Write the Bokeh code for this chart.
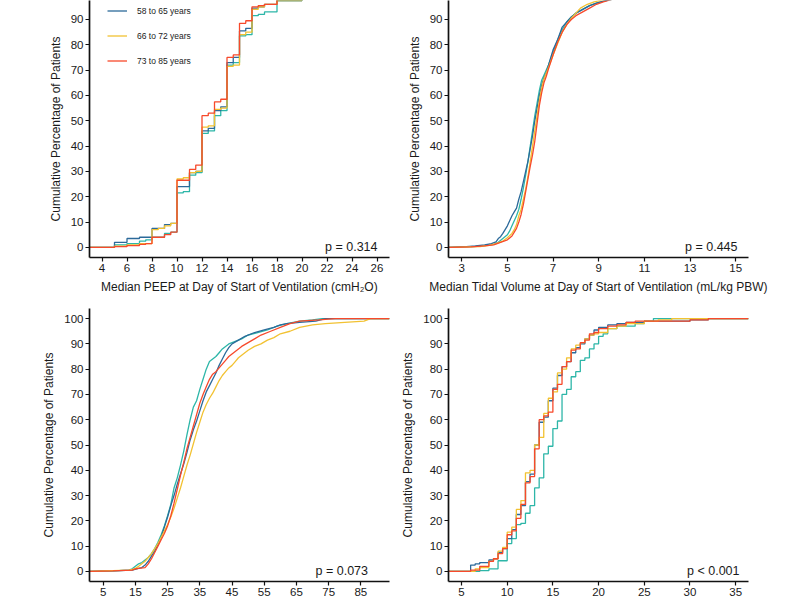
from bokeh.plotting import figure
from bokeh.models import FixedTicker, Range1d, Label, Legend, LegendItem
from bokeh.layouts import column, row
from bokeh.embed import file_html
from bokeh.resources import INLINE

# ---- group colours and names -------------------------------------------
group_colors = {
    "youngest": "#2DB6A8",
    "58 to 65 years": "#2C6A9A",
    "66 to 72 years": "#F2C232",
    "73 to 85 years": "#F7492B",
}
draw_order = ["youngest", "58 to 65 years", "66 to 72 years", "73 to 85 years"]
legend_groups = ["58 to 65 years", "66 to 72 years", "73 to 85 years"]

y_ticks = [0, 10, 20, 30, 40, 50, 60, 70, 80, 90, 100]

# ---- Panel A: median PEEP (cmH2O) ---------------------------------------
peep_ticks = [4, 6, 8, 10, 12, 14, 16, 18, 20, 22, 24, 26]
peep_x = {
    "youngest":       [5, 6, 7, 7.5, 8, 9, 9.5, 10, 10.5, 11, 11.5, 12, 12.5, 13, 13.5, 14, 14.5, 15, 15.5, 16, 16.5, 17, 18, 20],
    "58 to 65 years": [5, 6, 7, 8, 9, 9.5, 10, 11, 11.5, 12, 12.5, 13, 13.5, 14, 14.5, 15, 15.5, 16, 16.5, 17, 18, 20],
    "66 to 72 years": [5, 6, 7, 8, 8.5, 9, 9.5, 10, 10.5, 11, 11.5, 12, 12.5, 13, 13.5, 14, 14.5, 15, 15.5, 16, 16.5, 17, 18, 20],
    "73 to 85 years": [5, 6, 7, 7.5, 8, 9, 9.5, 10, 11, 11.5, 12, 12.5, 13, 13.5, 14, 14.5, 15, 15.5, 16, 16.5, 17, 18, 20],
}
peep_y = {
    "youngest":       [1, 1.5, 2.5, 3, 4, 5.5, 6, 21.5, 22, 28.5, 29.5, 45, 46, 52, 54, 72, 73, 83.5, 84, 91.5, 92, 93, 97.5, 100],
    "58 to 65 years": [2, 3.5, 4, 7.5, 9, 9.5, 24, 29.5, 30, 46, 47, 54, 55.5, 73, 75, 85.5, 86.5, 94.5, 95, 96, 97.5, 100],
    "66 to 72 years": [0.5, 1, 1.5, 7, 7.5, 8.5, 9.5, 27, 27.5, 29.5, 30, 47.5, 48, 54.5, 55, 71.5, 72, 84, 85, 94, 95, 96, 97.5, 100],
    "73 to 85 years": [0.3, 0.7, 1.2, 1.5, 4, 5, 6, 26.5, 30.8, 32.5, 52, 53, 57.5, 58.5, 75, 76, 88.5, 89.5, 95, 95.5, 96, 98, 100],
}

# ---- Panel B: median tidal volume (mL/kg PBW) ---------------------------
vt_ticks = [3, 5, 7, 9, 11, 13, 15]
vt_x = {
    "youngest":       [3.5, 4.0, 4.4, 4.6, 4.8, 5.0, 5.1, 5.2, 5.3, 5.4, 5.5, 5.6, 5.7, 5.8, 5.9, 6.0, 6.1, 6.2, 6.3, 6.4, 6.5, 6.6, 6.8, 7.0, 7.2, 7.4, 7.6, 7.8, 8.0, 8.3, 8.6, 9.0, 9.5, 10.0, 11.0],
    "58 to 65 years": [3.2, 3.6, 4.0, 4.3, 4.5, 4.6, 4.7, 4.8, 4.9, 5.0, 5.1, 5.2, 5.3, 5.4, 5.5, 5.6, 5.7, 5.8, 5.9, 6.0, 6.1, 6.2, 6.3, 6.4, 6.5, 6.6, 6.7, 6.8, 6.9, 7.0, 7.2, 7.4, 7.6, 7.8, 8.0, 8.3, 8.6, 8.9, 9.2, 9.6, 10.5, 11.2],
    "66 to 72 years": [3.8, 4.2, 4.5, 4.8, 5.0, 5.2, 5.3, 5.4, 5.5, 5.6, 5.7, 5.8, 5.9, 6.0, 6.1, 6.2, 6.3, 6.4, 6.5, 6.6, 6.8, 7.0, 7.2, 7.4, 7.6, 7.8, 8.0, 8.2, 8.5, 8.8, 9.3, 10.0, 10.5],
    "73 to 85 years": [3.4, 4.0, 4.4, 4.7, 5.0, 5.2, 5.4, 5.5, 5.6, 5.7, 5.8, 5.9, 6.0, 6.1, 6.2, 6.3, 6.4, 6.5, 6.6, 6.7, 6.8, 7.0, 7.2, 7.4, 7.6, 7.8, 8.0, 8.3, 8.6, 8.9, 9.2, 9.6, 10.2, 11.5],
}
vt_y = {
    "youngest":       [0.3, 0.7, 1.2, 2, 3.5, 5, 6.5, 8.5, 10.5, 12.5, 15, 19, 23.5, 28.5, 34, 40, 46, 52, 57, 62, 66, 68, 72, 77, 82, 86, 89, 91, 92.5, 94, 95.5, 96.8, 97.8, 98.7, 100],
    "58 to 65 years": [0.3, 0.6, 1.0, 1.5, 2.2, 3.5, 4.2, 5.5, 7, 8.5, 10.5, 12.5, 14, 15.5, 19, 22, 26, 30, 34, 39, 44, 50, 55, 60, 64, 67, 69, 72, 75, 78, 82, 87, 89, 91, 92.5, 94, 95.5, 96.5, 97.3, 98, 99, 100],
    "66 to 72 years": [0.3, 0.8, 1.5, 2.5, 3.8, 5.5, 7, 9, 12.5, 15, 19, 23, 28, 34, 40, 46, 52, 58, 63, 66.5, 71, 76, 80.5, 85, 88, 90.5, 92.5, 94.5, 96, 97, 98, 99, 100],
    "73 to 85 years": [0.2, 0.6, 1.0, 2, 3, 4.5, 7.5, 10, 13, 17, 22, 27, 32, 36.5, 42, 49, 56, 61, 65, 67.5, 70.5, 76, 81, 85, 88, 90, 91.5, 93, 94.5, 96, 97, 98, 99, 100],
}

# ---- Panel C -------------------------------------------------------------
c_ticks = [5, 15, 25, 35, 45, 55, 65, 75, 85]
c_x = {
    "youngest":       [8, 13, 14, 15, 16, 17, 18, 19, 20, 21, 22, 23, 24, 25, 26, 27, 28, 29, 30, 31, 32, 33, 34, 35, 36, 37, 38, 39, 40, 41, 42, 43, 44, 45, 46, 48, 50, 53, 56, 59, 62, 66, 70, 73],
    "58 to 65 years": [8, 14, 16, 17, 18, 19, 20, 21, 22, 23, 24, 25, 26, 27, 28, 29, 30, 31, 32, 33, 34, 35, 36, 37, 38, 39, 40, 41, 42, 43, 44, 45, 47, 49, 52, 55, 58, 60, 62, 66, 71, 74],
    "66 to 72 years": [8, 13, 14, 15, 16, 17, 18, 19, 20, 21, 22, 23, 24, 25, 26, 27, 28, 29, 30, 31, 32, 33, 34, 35, 36, 37, 38, 39, 40, 41, 42, 43, 44, 45, 46, 47, 48, 50, 52, 54, 56, 58, 60, 63, 66, 70, 74, 80, 86, 88],
    "73 to 85 years": [8, 14, 15, 16, 18, 19, 20, 21, 22, 23, 24, 25, 26, 27, 28, 29, 30, 31, 32, 33, 34, 35, 36, 37, 38, 39, 40, 41, 42, 43, 44, 45, 46, 48, 50, 52, 54, 57, 60, 63, 66, 72, 77],
}
c_y = {
    "youngest":       [0.2, 0.5, 1, 2, 3, 3.5, 4.5, 5.5, 7, 9, 11.5, 14.5, 18, 22, 26.5, 33, 37, 42, 47.5, 54, 60, 65, 67.5, 72, 76, 80, 83, 84, 85, 86.5, 88, 89, 90, 90.5, 91, 92, 93.5, 94.5, 95.5, 97, 98, 99, 99.5, 100],
    "58 to 65 years": [0.2, 0.5, 1.2, 1.5, 2.5, 4, 6, 8, 10.5, 13.5, 17.5, 21.5, 26, 30, 34.5, 38.5, 42.5, 47, 52, 56, 59.5, 63.5, 67.5, 71, 73.5, 76, 78.5, 81.5, 84, 86.5, 88.5, 90, 91.5, 93, 94.5, 95.5, 96.5, 97.5, 98, 98.5, 99, 100],
    "66 to 72 years": [0.3, 0.5, 0.8, 1.2, 2, 3, 4, 5.5, 7, 9, 11, 13.5, 16, 18.5, 21.5, 25, 29, 33, 37.5, 42, 46, 50.5, 55, 59, 63, 66, 68.5, 70.5, 73, 75.5, 77.5, 79, 80.5, 81.5, 83, 84.5, 85.5, 87.5, 89, 90, 91.5, 92.5, 94, 95, 96.5, 97.5, 98, 98.5, 99, 100],
    "73 to 85 years": [0.2, 0.5, 1, 1.2, 1.5, 3, 5, 7.5, 10, 12.5, 15, 18, 22, 27, 32.5, 38, 43, 48.5, 53, 57.5, 62, 66.5, 70, 73, 76, 78, 79, 80.5, 82, 83.5, 85, 86, 87, 89, 90.5, 92, 93.5, 95, 96.5, 98, 99, 99.5, 100],
}

# ---- Panel D -------------------------------------------------------------
d_ticks = [5, 10, 15, 20, 25, 30, 35]
d_x = {
    "youngest":       [7, 8, 9, 10, 10.5, 11, 11.5, 12, 12.5, 13, 13.5, 14, 14.5, 15, 15.5, 16, 16.5, 17, 17.5, 18, 18.5, 19, 19.5, 20, 20.5, 21, 22, 24, 25, 26],
    "58 to 65 years": [6, 6.5, 7, 8, 8.5, 9, 9.5, 10, 10.5, 11, 11.5, 12, 12.5, 13, 13.5, 14, 14.5, 15, 15.5, 16, 16.5, 17, 17.5, 18, 18.5, 19, 19.5, 20, 21, 22, 23, 25, 30, 32],
    "66 to 72 years": [6.5, 7, 8, 8.5, 9, 9.5, 10, 10.5, 11, 11.5, 12, 12.5, 13, 13.5, 14, 14.5, 15, 15.5, 16, 16.5, 17, 17.5, 18, 18.5, 19, 19.5, 20, 21, 22, 23, 25, 26.5, 28],
    "73 to 85 years": [6, 7, 8, 8.5, 9, 9.5, 10, 10.5, 11, 11.5, 12, 12.5, 13, 13.5, 14, 14.5, 15, 15.5, 16, 16.5, 17, 17.5, 18, 18.5, 19, 19.5, 20, 21, 22, 23, 24, 30, 32],
}
d_y = {
    "youngest":       [0.3, 1, 4.2, 11, 13, 18.5, 19, 23, 26, 33, 37, 46.5, 49.5, 56.5, 59.5, 70, 72, 77, 79, 83.5, 84.5, 88, 90, 93, 94, 96, 97, 98, 99, 100],
    "58 to 65 years": [2.5, 3, 3.5, 4.5, 5, 7.5, 9, 13, 16.5, 22.5, 26, 35.5, 38.5, 50, 59, 61, 67.5, 72.5, 77.5, 81, 83, 86.5, 88.5, 90, 92, 93.5, 95.5, 96.5, 97.5, 98, 98.5, 99, 99.5, 100],
    "66 to 72 years": [1, 1.5, 4, 5, 8, 9.5, 15.5, 17.5, 24.5, 28, 39, 40, 50, 53, 62.5, 68.5, 71, 78.5, 80, 84.5, 88, 89.5, 90.5, 92, 93.5, 94, 94.5, 96, 97, 98, 99, 99.5, 100],
    "73 to 85 years": [0.5, 2, 4, 5, 7, 9, 14.5, 16, 21, 26.5, 35, 37.5, 48.5, 60, 61.5, 63, 72, 74, 81, 83, 87.5, 88, 90.5, 91.5, 94, 94.5, 96, 97, 97.5, 98.5, 99, 99.5, 100],
}

FONT = "Liberation Sans"


def make_panel(width, height, x_range, y_range, x_ticks, borders, x_label=None):
    left, right, top, bottom = borders
    p = figure(width=width, height=height,
               x_range=Range1d(*x_range), y_range=Range1d(*y_range),
               output_backend="svg", toolbar_location=None,
               min_border_left=left, min_border_right=right,
               min_border_top=top, min_border_bottom=bottom)
    p.outline_line_color = None
    p.grid.visible = False
    p.background_fill_color = "white"
    p.border_fill_color = "white"

    p.xaxis.ticker = FixedTicker(ticks=x_ticks)
    p.yaxis.ticker = FixedTicker(ticks=y_ticks)
    for ax in (p.xaxis[0], p.yaxis[0]):
        ax.axis_line_width = 1.7
        ax.axis_line_color = "#111111"
        ax.major_tick_line_color = "#111111"
        ax.major_tick_line_width = 1.2
        ax.major_tick_out = 4
        ax.major_tick_in = 0
        ax.minor_tick_line_color = None
        ax.major_label_text_font = FONT
        ax.major_label_text_font_size = "11.5px"
        ax.major_label_text_color = "#1a1a1a"
        ax.major_label_standoff = 2
        ax.axis_label_text_font = FONT
        ax.axis_label_text_font_size = "12px"
        ax.axis_label_text_font_style = "normal"
        ax.axis_label_text_color = "#1a1a1a"
        ax.axis_label_standoff = 5
    p.yaxis.axis_label = "Cumulative Percentage of Patients"
    if x_label:
        p.xaxis.axis_label = x_label
    return p


def draw_groups(p, xs, ys, x_range, stepped=True):
    renderers = {}
    for g in draw_order:
        # pad each cumulative curve out to both edges of the panel
        x = [x_range[0]] + xs[g] + [x_range[1]]
        y = [0] + ys[g] + [ys[g][-1]]
        if stepped:
            renderers[g] = p.step(x, y, mode="after", line_color=group_colors[g],
                                  line_width=1.3)
        else:
            renderers[g] = p.line(x, y, line_color=group_colors[g], line_width=1.3)
    return renderers


def add_p_value(p, text, x_end, offset):
    p.add_layout(Label(x=x_end, y=0, x_offset=-offset, text=text,
                       text_align="right", text_baseline="middle",
                       text_font=FONT, text_font_size="12.5px",
                       text_color="#1a1a1a"))


# Panel A
xr_a = (3, 27)
pa = make_panel(397, 300, xr_a, (-4, 97.5), peep_ticks, (89, 8, 0, 43),
                "Median PEEP at Day of Start of Ventilation (cmH\u2082O)")
ra = draw_groups(pa, peep_x, peep_y, xr_a)
add_p_value(pa, "p = 0.314", xr_a[1], 12)
legend = Legend(items=[LegendItem(label=g, renderers=[ra[g]]) for g in legend_groups],
                location=(18, 189), orientation="vertical",
                background_fill_alpha=0, border_line_alpha=0,
                padding=0, margin=0, spacing=10,
                glyph_width=20, glyph_height=15, label_height=15,
                label_standoff=10, label_text_font=FONT,
                label_text_font_size="8.5px", label_text_color="#1a1a1a")
pa.add_layout(legend)

# Panel B
xr_b = (2.42, 15.56)
pb = make_panel(397, 300, xr_b, (-4, 97.5), vt_ticks, (51, 46, 0, 41),
                "Median Tidal Volume at Day of Start of Ventilation (mL/kg PBW)")
draw_groups(pb, vt_x, vt_y, xr_b, stepped=False)
add_p_value(pb, "p = 0.445", xr_b[1], 11)

# Panel C
xr_c = (0.75, 93.9)
pc = make_panel(397, 300, xr_c, (-4, 104), c_ticks, (89, 8, 8, 19))
draw_groups(pc, c_x, c_y, xr_c, stepped=False)
add_p_value(pc, "p =  0.073", xr_c[1], 18)

# Panel D
xr_d = (3.58, 36.4)
pd_ = make_panel(397, 300, xr_d, (-4, 104), d_ticks, (51, 46, 8, 19))
draw_groups(pd_, d_x, d_y, xr_d)
add_p_value(pd_, "p < 0.001", xr_d[1], 9)

layout = column(row(pa, pb), row(pc, pd_))

with open("out.html", "w") as f:
    f.write(file_html(layout, INLINE))
